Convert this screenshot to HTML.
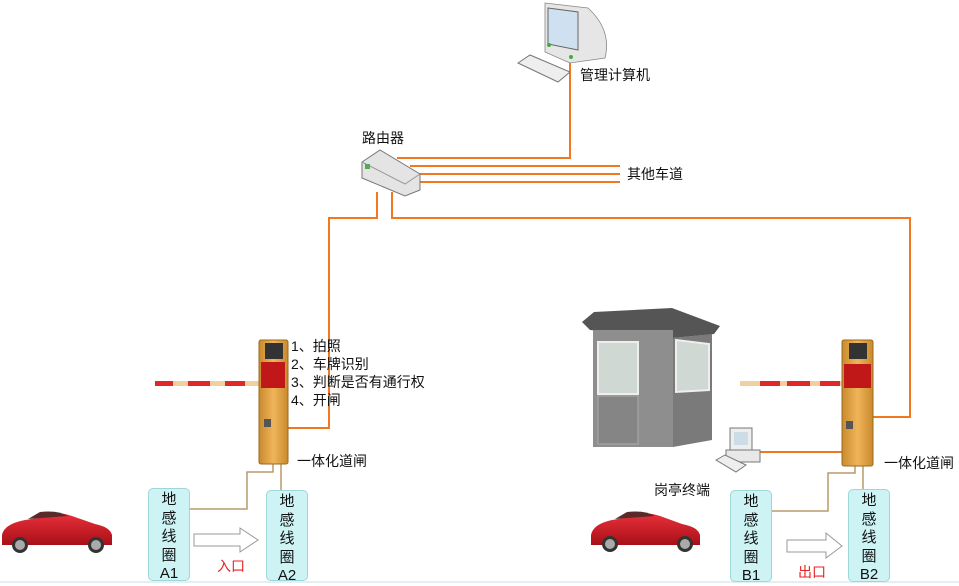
<!DOCTYPE html>
<html><head><meta charset="utf-8"><style>
body{margin:0;background:#fff;width:959px;height:585px;overflow:hidden;position:relative;font-family:"Liberation Sans","Noto Sans CJK SC",sans-serif}
.t{position:absolute;font-size:14px;color:#111;white-space:nowrap;line-height:18px}
.box{position:absolute;background:#cdf3f5;border:1px solid #9fd6d8;border-radius:5px;font-size:15px;text-align:center;line-height:18.5px;color:#111;box-sizing:border-box;padding-top:2px}
.red{color:#e82020;font-size:14px;position:absolute}
</style></head><body>
<svg width="959" height="585" style="position:absolute;left:0;top:0">
<defs>
<linearGradient id="g" x1="0" x2="1"><stop offset="0" stop-color="#c98a2c"/><stop offset=".5" stop-color="#f0b45a"/><stop offset="1" stop-color="#c98a2c"/></linearGradient>
<linearGradient id="car" x1="0" y1="0" x2="0" y2="1"><stop offset="0" stop-color="#e8303a"/><stop offset="1" stop-color="#a80f18"/></linearGradient>
</defs>
<line x1="0" y1="582" x2="959" y2="582" stroke="#e4eef4" stroke-width="2"/>
<g stroke="#f07820" stroke-width="2" fill="none">
<polyline points="570,62 570,158 397,158"/>
<line x1="410" y1="166" x2="620" y2="166"/>
<line x1="415" y1="174" x2="620" y2="174"/>
<line x1="418" y1="182" x2="620" y2="182"/>
<polyline points="377,192 377,218 329,218 329,428 288,428"/>
<polyline points="392,192 392,218 910,218 910,417 873,417"/>
<line x1="760" y1="452" x2="842" y2="452"/>
</g>
<g stroke="#b89a6a" stroke-width="1.5" fill="none">
<polyline points="273,464 273,472 247,472 247,509 190,509"/>
<line x1="281" y1="464" x2="281" y2="490"/>
<polyline points="855,466 855,473 828,473 828,511 772,511"/>
<line x1="863" y1="466" x2="863" y2="490"/>
</g>
<path d="M545,3 L588,8 Q612,30 605,58 L570,63 L545,52 Z" fill="#e6e6e6" stroke="#888" stroke-width="0.8"/>
<path d="M548,8 L578,12 L578,50 L548,44 Z" fill="#cfe0f0" stroke="#666"/>
<circle cx="549" cy="45" r="2" fill="#4a4"/><circle cx="571" cy="57" r="2" fill="#4a4"/>
<path d="M518,63 L530,55 L570,72 L558,82 Z" fill="#eee" stroke="#777"/>
<path d="M362,162 L380,150 L420,174 L420,190 L405,196 L362,178 Z" fill="#e4e4e4" stroke="#777"/>
<path d="M362,162 L405,184 L420,174" fill="none" stroke="#999"/>
<rect x="365" y="164" width="5" height="5" fill="#5a5"/>
<rect x="155" y="381" width="104" height="5" fill="#f0d0a0"/>
<g fill="#e02828"><rect x="155" y="381" width="18" height="5"/><rect x="188" y="381" width="22" height="5"/><rect x="225" y="381" width="20" height="5"/></g>
<rect x="259" y="340" width="29" height="124" rx="2" fill="url(#g)" stroke="#9a6a20"/>
<rect x="265" y="343" width="18" height="16" fill="#333"/>
<rect x="261" y="362" width="24" height="26" fill="#c01818"/>
<rect x="264" y="419" width="7" height="8" fill="#555"/>
<rect x="740" y="381" width="104" height="5" fill="#f0d0a0"/>
<g fill="#e02828"><rect x="760" y="381" width="20" height="5"/><rect x="787" y="381" width="23" height="5"/><rect x="820" y="381" width="20" height="5"/></g>
<rect x="842" y="340" width="31" height="126" rx="2" fill="url(#g)" stroke="#9a6a20"/>
<rect x="849" y="343" width="18" height="16" fill="#333"/>
<rect x="844" y="364" width="27" height="24" fill="#c01818"/>
<rect x="846" y="421" width="7" height="8" fill="#555"/>
<path d="M582,322 L594,312 L672,308 L720,326 L714,334 L673,338 L590,330 Z" fill="#555"/>
<rect x="593" y="330" width="80" height="117" fill="#8e8e8e"/>
<path d="M673,338 L712,334 L712,440 L673,447 Z" fill="#7a7a7a"/>
<rect x="598" y="342" width="40" height="52" fill="#cfd8d2" stroke="#eee" stroke-width="2"/>
<path d="M676,340 L709,344 L709,390 L676,392 Z" fill="#cfd8d2" stroke="#eee" stroke-width="2"/>
<rect x="598" y="396" width="40" height="48" fill="#858585" stroke="#aaa"/>
<rect x="730" y="428" width="22" height="22" fill="#eee" stroke="#777"/>
<rect x="734" y="432" width="14" height="13" fill="#ccdde8"/>
<rect x="726" y="450" width="34" height="12" fill="#e8e8e8" stroke="#777"/>
<path d="M716,460 L725,455 L746,465 L736,472 Z" fill="#eee" stroke="#777"/>
<path d="M194,534 L240,534 L240,528 L258,540 L240,552 L240,546 L194,546 Z" fill="#fff" stroke="#999"/>
<path d="M787,540 L826,540 L826,533 L842,546 L826,558 L826,552 L787,552 Z" fill="#fff" stroke="#999"/>
<g>
<path d="M2,535 Q4,524 25,520 L38,518 Q55,510 72,516 L95,524 Q110,527 112,535 L112,545 L2,545 Z" fill="url(#car)"/>
<path d="M28,519 L40,512 Q58,510 68,516 Z" fill="#5a2a2a"/>
<circle cx="20" cy="545" r="8" fill="#333"/><circle cx="20" cy="545" r="5" fill="#aaa"/>
<circle cx="96" cy="545" r="8" fill="#333"/><circle cx="96" cy="545" r="5" fill="#aaa"/>
</g>
<g>
<path d="M591,535 Q593,524 612,520 L624,518 Q642,510 660,516 L682,524 Q698,527 700,535 L700,545 L591,545 Z" fill="url(#car)"/>
<path d="M615,519 L627,512 Q645,510 655,516 Z" fill="#5a2a2a"/>
<circle cx="610" cy="544" r="8" fill="#333"/><circle cx="610" cy="544" r="5" fill="#aaa"/>
<circle cx="685" cy="544" r="8" fill="#333"/><circle cx="685" cy="544" r="5" fill="#aaa"/>
</g>
</svg>
<div class="t" style="left:580px;top:66px">管理计算机</div>
<div class="t" style="left:362px;top:129px">路由器</div>
<div class="t" style="left:627px;top:165px">其他车道</div>
<div class="t" style="left:291px;top:337px">1、拍照</div>
<div class="t" style="left:291px;top:355px">2、车牌识别</div>
<div class="t" style="left:291px;top:373px">3、判断是否有通行权</div>
<div class="t" style="left:291px;top:391px">4、开闸</div>
<div class="t" style="left:297px;top:452px">一体化道闸</div>
<div class="t" style="left:884px;top:454px">一体化道闸</div>
<div class="t" style="left:654px;top:481px">岗亭终端</div>
<div class="box" style="left:148px;top:488px;width:42px;height:93px">地<br>感<br>线<br>圈<br>A1</div>
<div class="box" style="left:266px;top:490px;width:42px;height:91px">地<br>感<br>线<br>圈<br>A2</div>
<div class="box" style="left:730px;top:490px;width:42px;height:92px">地<br>感<br>线<br>圈<br>B1</div>
<div class="box" style="left:848px;top:489px;width:42px;height:93px">地<br>感<br>线<br>圈<br>B2</div>
<div class="red" style="left:217px;top:556px">入口</div>
<div class="red" style="left:798px;top:562px">出口</div>
</body></html>
